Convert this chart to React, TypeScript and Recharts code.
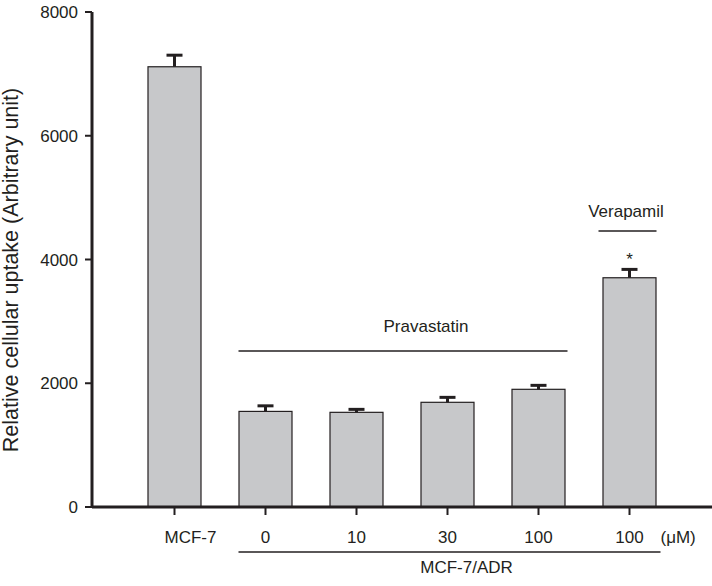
import { BarChart, Bar, XAxis, YAxis, ReferenceLine } from 'recharts'

const groups = ['MCF-7', 'ADR-0', 'ADR-10', 'ADR-30', 'ADR-100', 'VER-100']
const tickLabels = ['MCF-7', '0', '10', '30', '100', '100']
const uptake = [7115, 1545, 1530, 1692, 1902, 3705]
const sem = [187, 90, 48, 80, 64, 135]
const marks = ['', '', '', '', '', '*']
const yTicks = [0, 2000, 4000, 6000, 8000]

// heights of the bracket lines, in axis units
const pravastatinY = 2520
const verapamilY = 4460
const adrY = -727

const data = groups.map((g, i) => ({
  group: g,
  label: tickLabels[i],
  uptake: uptake[i],
  sem: sem[i],
  mark: marks[i]
}))

const INK = '#231f20'
const FONT = '"Liberation Sans", Arial, Helvetica, sans-serif'

function BarWithError(props: any) {
  const { x, y, width, height, payload } = props
  const cx = x + width / 2
  const errPx = height > 0 ? (payload.sem * height) / payload.uptake : 0
  const capY = y - errPx
  return (
    <g>
      <rect x={x} y={y} width={width} height={height} fill="#c7c8ca" stroke={INK} strokeWidth={1.2} />
      <line x1={cx} y1={y} x2={cx} y2={capY} stroke={INK} strokeWidth={3} />
      <line x1={cx - 8} y1={capY} x2={cx + 8} y2={capY} stroke={INK} strokeWidth={3} />
      {payload.mark && (
        <text x={cx} y={capY - 4} textAnchor="middle" fontSize={17} fontFamily={FONT} fill={INK}>
          {payload.mark}
        </text>
      )}
    </g>
  )
}

function bracket(text: string, extL: number, extR: number, textDx: number, textDy: number) {
  return (p: any) => {
    const x1 = p.x1 - extL
    const x2 = p.x2 + extR
    return (
      <g>
        <line x1={x1} y1={p.y1} x2={x2} y2={p.y2} stroke={INK} strokeWidth={1.5} />
        <text
          x={(x1 + x2) / 2 + textDx}
          y={p.y1 + textDy}
          textAnchor="middle"
          fontSize={17}
          fontFamily={FONT}
          fill={INK}
        >
          {text}
        </text>
      </g>
    )
  }
}

function XTick(props: any) {
  const { x, y, payload, index } = props
  const d = data[index] || data.find((r) => r.group === payload.value)
  const dx = index === 0 ? 16 : 0
  return (
    <g>
      <text x={x + dx} y={y + 28} textAnchor="middle" fontSize={17} fontFamily={FONT} fill={INK}>
        {d ? d.label : payload.value}
      </text>
      {index === groups.length - 1 && (
        <text x={x + 31} y={y + 28} textAnchor="start" fontSize={17} fontFamily={FONT} fill={INK}>
          (μM)
        </text>
      )}
    </g>
  )
}

export default function App() {
  return (
    <div style={{ position: 'absolute', left: 0, top: 0, background: '#fff' }}>
      <BarChart
        width={712}
        height={586}
        data={data}
        margin={{ top: 12, right: 0, bottom: 0, left: 0 }}
        barCategoryGap={0}
      >
        <XAxis
          dataKey="group"
          height={79}
          padding={{ left: 37, right: 37 }}
          axisLine={{ stroke: INK, strokeWidth: 3 }}
          tickLine={{ stroke: INK, strokeWidth: 2 }}
          tickSize={8}
          tickMargin={0}
          tick={<XTick />}
          interval={0}
        />
        <YAxis
          width={92}
          domain={[0, 8000]}
          ticks={yTicks}
          axisLine={{ stroke: INK, strokeWidth: 3 }}
          tickLine={{ stroke: INK, strokeWidth: 2 }}
          tickSize={7}
          tickMargin={7}
          tick={{ fill: INK, fontSize: 17, fontFamily: FONT }}
          label={{
            content: () => (
              <text
                x={18}
                y={270}
                transform="rotate(-90, 18, 270)"
                textAnchor="middle"
                fontSize={21.5}
                fontFamily={FONT}
                fill={INK}
              >
                Relative cellular uptake (Arbitrary unit)
              </text>
            )
          }}
        />
        <Bar dataKey="uptake" barSize={53} isAnimationActive={false} shape={<BarWithError />} />
        <ReferenceLine
          segment={[{ x: 'ADR-0', y: pravastatinY }, { x: 'ADR-100', y: pravastatinY }]}
          shape={bracket('Pravastatin', 27, 29, 23, -19)}
        />
        <ReferenceLine
          segment={[{ x: 'VER-100', y: verapamilY }, { x: 'VER-100', y: verapamilY }]}
          shape={bracket('Verapamil', 31, 27, -1.5, -14)}
        />
        <ReferenceLine
          segment={[{ x: 'ADR-0', y: adrY }, { x: 'VER-100', y: adrY }]}
          ifOverflow="visible"
          shape={bracket('MCF-7/ADR', 27, 31, 17, 21)}
        />
      </BarChart>
    </div>
  )
}
